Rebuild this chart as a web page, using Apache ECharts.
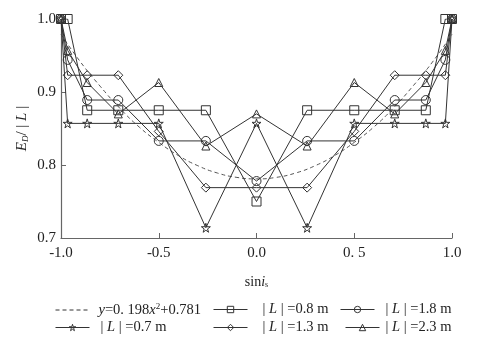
<!DOCTYPE html>
<html>
<head>
<meta charset="utf-8">
<script src="https://cdn.jsdelivr.net/npm/echarts@6/dist/echarts.min.js"></script>
<style>
  html, body { margin: 0; padding: 0; background: #fff; }
  #chart { width: 491px; height: 342px; }
</style>
</head>
<body>
<div id="chart"></div>
<script>
// sin i_s positions
const xs = [-1, -0.966, -0.866, -0.707, -0.5, -0.259, 0, 0.259, 0.5, 0.707, 0.866, 0.966, 1]

// E_D/|L| for each |L|
const L07 = [1.0, 0.857, 0.857, 0.857, 0.857, 0.714, 0.857, 0.714, 0.857, 0.857, 0.857, 0.857, 1.0]
const L08 = [1.0, 1.0, 0.875, 0.875, 0.875, 0.875, 0.75, 0.875, 0.875, 0.875, 0.875, 1.0, 1.0]
const L13 = [1.0, 0.923, 0.923, 0.923, 0.846, 0.769, 0.769, 0.769, 0.846, 0.923, 0.923, 0.923, 1.0]
const L18 = [1.0, 0.944, 0.889, 0.889, 0.833, 0.833, 0.778, 0.833, 0.833, 0.889, 0.889, 0.944, 1.0]
const L23 = [1.0, 0.957, 0.913, 0.870, 0.913, 0.826, 0.870, 0.826, 0.913, 0.870, 0.913, 0.957, 1.0]

// fitted curve
const fitX = [-1, -0.9, -0.8, -0.7, -0.6, -0.5, -0.4, -0.3, -0.2, -0.1, 0, 0.1, 0.2, 0.3, 0.4, 0.5, 0.6, 0.7, 0.8, 0.9, 1]
const fitY = [0.979, 0.941, 0.908, 0.878, 0.852, 0.831, 0.813, 0.799, 0.789, 0.783, 0.781, 0.783, 0.789, 0.799, 0.813, 0.831, 0.852, 0.878, 0.908, 0.941, 0.979]

const xTickLabels = { '-1': '-1.0', '-0.5': '-0.5', '0': '0.0', '0.5': '0. 5', '1': '1.0' }
const yTickLabels = ['0.7', '0.8', '0.9', '1.0']

const star = 'path://M50,0 L61,35 L98,35 L68,57 L79,91 L50,70 L21,91 L32,57 L2,35 L39,35 Z'
const ink = '#333'
const font = 'Liberation Serif'

const pair = (xArr, yArr) => xArr.map((x, i) => [x, yArr[i]])

const markerSeries = (name, data, symbol, size) => ({
  name,
  type: 'line',
  data: pair(xs, data),
  symbol,
  symbolSize: size,
  showAllSymbol: true,
  lineStyle: { color: ink, width: 1 },
  itemStyle: { color: 'rgba(255,255,255,0)', borderColor: ink, borderWidth: 1 },
  emphasis: { disabled: true },
  z: 3
})

const rich = {
  i: { fontFamily: font, fontStyle: 'italic', fontSize: 14.5, color: '#222' },
  sup: { fontFamily: font, fontSize: 9, color: '#222', verticalAlign: 'top', padding: [0, 0, 7, 0] }
}

const legendNames = {
  fit: '{i|y}=0. 198{i|x}{sup|2}+0.781',
  l08: '| {i|L} | =0.8 m',
  l18: '| {i|L} | =1.8 m',
  l07: '| {i|L} | =0.7 m',
  l13: '| {i|L} | =1.3 m',
  l23: '| {i|L} | =2.3 m'
}

const mkLegend = (key, left, top, gapText) => ({
  data: key === 'fit'
    ? [{ name: key, itemStyle: { opacity: 0 } }]
    : [key],
  left, top,
  itemWidth: 34,
  itemHeight: 8,
  itemGap: 0,
  padding: 0,
  selectedMode: false,
  itemStyle: { color: 'rgba(255,255,255,0)', borderColor: ink, borderWidth: 1 },
  lineStyle: { width: 1, color: ink },
  formatter: () => legendNames[key],
  textStyle: { fontFamily: font, fontSize: 14.5, color: '#222', rich, padding: [0, 0, 0, gapText] }
})

const chart = echarts.init(document.getElementById('chart'))
chart.setOption({
  animation: false,
  textStyle: { fontFamily: font },
  grid: { left: 61, right: 39, top: 19, bottom: 104 },
  legend: [
    mkLegend('fit', 55, 302, 4),
    mkLegend('l08', 213, 302, 10),
    mkLegend('l18', 340, 302, 6),
    mkLegend('l07', 55, 320, 6),
    mkLegend('l13', 213, 320, 10),
    mkLegend('l23', 345, 320, 1)
  ],
  xAxis: {
    type: 'value',
    min: -1,
    max: 1,
    interval: 0.5,
    name: 'sin{i|i}{s|s}',
    nameLocation: 'middle',
    nameGap: 37,
    nameTextStyle: {
      fontFamily: font, fontSize: 14, color: '#222',
      rich: {
        i: { fontFamily: font, fontStyle: 'italic', fontSize: 14, color: '#222' },
        s: { fontFamily: font, fontSize: 8, color: '#222', padding: [6, 0, 0, 0] }
      }
    },
    axisLine: { onZero: false, lineStyle: { color: '#666', width: 1.2 } },
    axisTick: { inside: true, length: 5, lineStyle: { color: '#666' } },
    splitLine: { show: false },
    axisLabel: {
      fontFamily: font, fontSize: 15, color: '#222', margin: 8,
      formatter: v => xTickLabels[String(Math.round(v * 10) / 10)] || ''
    }
  },
  yAxis: {
    type: 'value',
    min: 0.7,
    max: 1.0,
    interval: 0.1,
    name: '{e|E}{d|D}/ | {e|L} |',
    nameLocation: 'middle',
    nameGap: 31,
    nameMoveOverlap: false,
    nameRotate: 90,
    nameTextStyle: {
      fontFamily: font, fontSize: 15, color: '#222',
      rich: {
        e: { fontFamily: font, fontStyle: 'italic', fontSize: 15, color: '#222' },
        d: { fontFamily: font, fontStyle: 'italic', fontSize: 9, color: '#222', padding: [6, 0, 0, 0] }
      }
    },
    axisLine: { show: true, onZero: false, lineStyle: { color: '#666', width: 1.2 } },
    axisTick: { show: true, inside: true, length: 5, lineStyle: { color: '#666' } },
    splitLine: { show: false },
    axisLabel: {
      fontFamily: font, fontSize: 15, color: '#222', margin: 5,
      formatter: v => yTickLabels[Math.round((v - 0.7) * 10)]
    }
  },
  series: [
    {
      name: 'fit',
      type: 'line',
      data: pair(fitX, fitY),
      smooth: true,
      symbol: 'none',
      lineStyle: { color: '#555', width: 1, type: [4, 3] },
      itemStyle: { color: '#555' },
      emphasis: { disabled: true },
      z: 2
    },
    markerSeries('l08', L08, 'rect', 9),
    markerSeries('l18', L18, 'circle', 9),
    markerSeries('l07', L07, star, 9),
    markerSeries('l13', L13, 'diamond', 9),
    markerSeries('l23', L23, 'triangle', 8)
  ]
})
</script>
</body>
</html>
